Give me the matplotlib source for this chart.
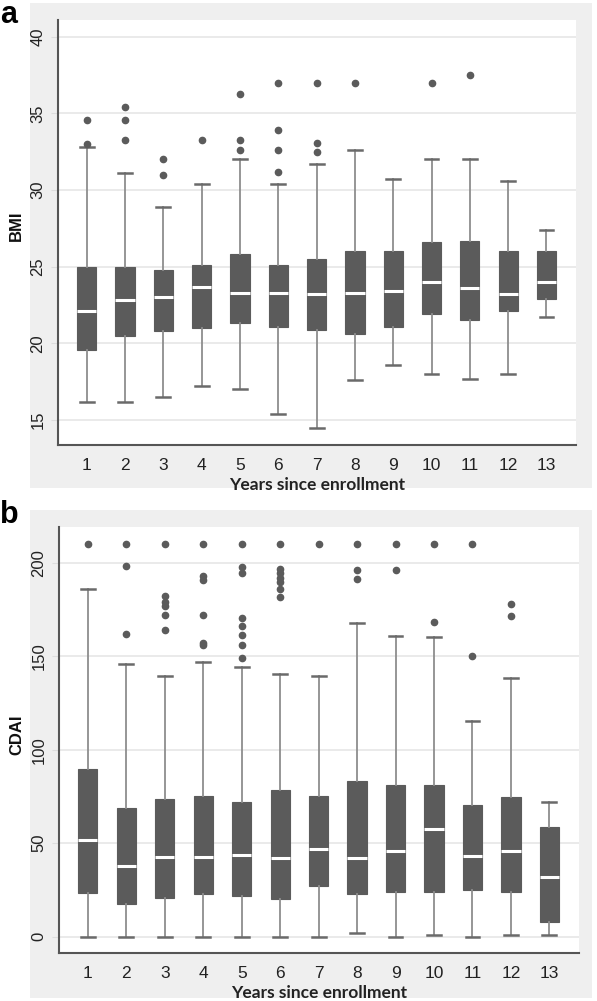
import matplotlib.pyplot as plt
from matplotlib.patches import Rectangle

years = list(range(1, 14))

# panel a: BMI
bmi_q1 = [19.6, 20.5, 20.8, 21.0, 21.3, 21.1, 20.9, 20.6, 21.1, 21.9, 21.5, 22.1, 22.9]
bmi_med = [22.1, 22.8, 23.0, 23.7, 23.3, 23.3, 23.2, 23.3, 23.4, 24.0, 23.6, 23.2, 24.0]
bmi_q3 = [25.0, 25.0, 24.8, 25.1, 25.8, 25.1, 25.5, 26.0, 26.0, 26.6, 26.7, 26.0, 26.0]
bmi_lo = [16.2, 16.2, 16.5, 17.2, 17.0, 15.4, 14.5, 17.6, 18.6, 18.0, 17.7, 18.0, 21.7]
bmi_hi = [32.8, 31.1, 28.9, 30.4, 32.0, 30.4, 31.7, 32.6, 30.7, 32.0, 32.0, 30.6, 27.4]
bmi_out = [[34.6, 33.0], [35.4, 34.6, 33.3], [32.0, 31.0], [33.3],
           [36.3, 33.3, 32.6], [37.0, 33.9, 32.6, 31.2], [37.0, 33.1, 32.5],
           [37.0], [], [37.0], [37.5], [], []]

# panel b: CDAI
cdai_q1 = [23.4, 17.7, 20.6, 22.9, 22.0, 20.0, 27.0, 22.9, 23.8, 23.8, 25.2, 23.8, 7.8]
cdai_med = [51.8, 37.8, 42.9, 42.6, 43.8, 42.0, 47.0, 42.0, 46.1, 57.4, 43.3, 45.7, 31.9]
cdai_q3 = [89.9, 69.1, 73.9, 75.0, 72.0, 78.7, 75.5, 83.2, 81.0, 81.0, 70.7, 74.5, 58.9]
cdai_lo = [0, 0, 0, 0, 0, 0, 0, 2.1, 0, 1.1, 0, 1.1, 1.1]
cdai_hi = [185.8, 146.1, 139.5, 147.0, 144.1, 140.4, 139.4, 167.9, 161.0, 160.1, 115.6, 138.3, 71.8]
cdai_out = [[210], [210, 198.2, 162.1], [210, 182, 179, 177, 172, 164],
            [210, 193, 191, 172, 157, 156],
            [210, 197.5, 194.3, 170.6, 166.1, 161.2, 156.2, 148.9],
            [210, 196.5, 194.3, 192, 189.9, 186.2, 181.7],
            [210], [210, 196.3, 191.1], [210, 196.3], [210, 168.4],
            [210, 150.2], [177.8, 171.4], []]

W, H = 597, 1001
fig = plt.figure(figsize=(W / 100, H / 100), dpi=100)
fig.patch.set_facecolor('white')

box_col = '#5b5b5b'
bg = '#efefef'


def px_rect(l, t, r, b):
    return [l / W, (H - b) / H, (r - l) / W, (b - t) / H]


def panel(rect, bgrect, q1, med, q3, lo, hi, out, ylim, yticks, ylabel, label_y,
          letter, letter_y):
    l, t, r, b = bgrect
    fig.patches.append(Rectangle((l / W, (H - b) / H), (r - l) / W, (b - t) / H,
                                 transform=fig.transFigure, facecolor=bg,
                                 edgecolor='none', zorder=-5))
    ax = fig.add_axes(px_rect(*rect))
    ax.set_facecolor('white')
    stats = []
    for i in range(len(years)):
        stats.append(dict(med=med[i], q1=q1[i], q3=q3[i], whislo=lo[i],
                          whishi=hi[i], fliers=out[i], label=str(years[i])))
    ax.bxp(stats, positions=years, widths=0.5, capwidths=0.36, patch_artist=True,
           boxprops=dict(facecolor=box_col, edgecolor=box_col, linewidth=0.8),
           medianprops=dict(color='white', linewidth=2.2),
           whiskerprops=dict(color='#8e8e8e', linewidth=1.3),
           capprops=dict(color='#6a6a6a', linewidth=1.8),
           flierprops=dict(marker='o', markerfacecolor=box_col,
                           markeredgecolor=box_col, markersize=4.5))
    ax.set_xlim(0.25, 13.77)
    ax.set_ylim(*ylim)
    ax.set_yticks(yticks)
    ax.set_yticklabels([str(v) for v in yticks], rotation=90, va='center',
                       fontsize=12, family='Liberation Sans', color='#222222')
    ax.set_xticks(years)
    ax.set_xticklabels([str(v) for v in years], fontsize=12.5,
                       family='Liberation Sans', color='#222222')
    ax.tick_params(axis='x', length=0, pad=9)
    ax.tick_params(axis='y', length=5, color='#dddddd', pad=4)
    ax.grid(axis='y', color='#e4e4e4', linewidth=1.1)
    ax.set_axisbelow(True)
    for s in ['top', 'right']:
        ax.spines[s].set_visible(False)
    for s in ['left', 'bottom']:
        ax.spines[s].set_color('#555555')
        ax.spines[s].set_linewidth(1.5)
    ax.set_xlabel('Years since enrollment', fontsize=12.5, fontweight='bold',
                  family='Lato', color='#222222', labelpad=3)
    ax.set_ylabel(ylabel, fontsize=12, fontweight='bold',
                  family='Liberation Sans', color='#111111')
    ax.yaxis.set_label_coords((24 - rect[0]) / (rect[2] - rect[0]),
                              (rect[3] - label_y) / (rect[3] - rect[1]))
    fig.text(0.5 / W, (H - letter_y) / H, letter, fontsize=22, fontweight='bold',
             family='Liberation Sans', va='top', ha='left')
    return ax


panel((58, 20, 576, 445), (30, 3, 592, 488), bmi_q1, bmi_med, bmi_q3, bmi_lo,
      bmi_hi, bmi_out, (13.37, 41.1), [15, 20, 25, 30, 35, 40], 'BMI', 226, 'a', 0)
panel((59, 527, 579, 953), (30, 510, 592, 998), cdai_q1, cdai_med, cdai_q3,
      cdai_lo, cdai_hi, cdai_out, (-8.7, 219.1), [0, 50, 100, 150, 200], 'CDAI',
      735, 'b', 500)

fig.savefig('out.png', dpi=100)
